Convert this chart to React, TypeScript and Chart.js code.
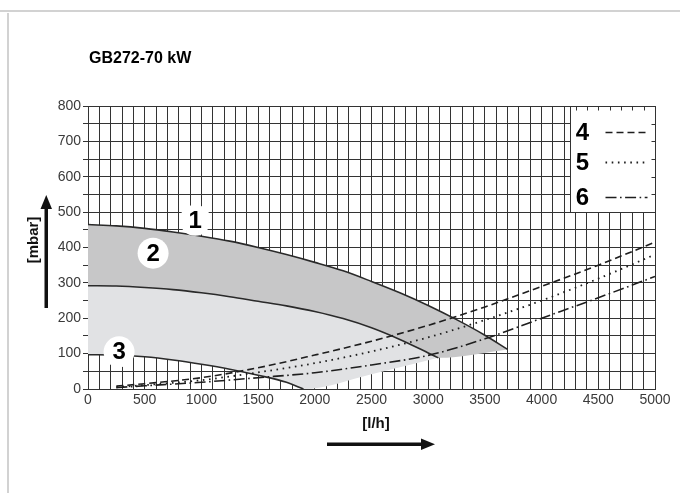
import React, { useEffect, useRef } from "react";
import { Chart, registerables } from "chart.js";

Chart.register(...registerables);

// ---------- text ----------
const chartTitle = "GB272-70 kW";
const yAxisTitle = "[mbar]";
const xAxisTitle = "[l/h]";
const curveLabels = ["1", "2", "3"];
const legendLabels = ["4", "5", "6"];

// ---------- axes ----------
const flowMin = 0;
const flowMax = 5000;
const flowGridStep = 100;
const flowLabelStep = 500;
const pressureMin = 0;
const pressureMax = 800;
const pressureGridStep = 50;
const pressureLabelStep = 100;

// ---------- pump curves [l/h, mbar] ----------
const curve1: [number, number][] = [
  [0, 465], [250, 461], [500, 454], [750, 444], [1000, 432], [1250, 418],
  [1500, 400], [1750, 380], [2000, 358], [2250, 334], [2500, 304],
  [2750, 272], [3000, 236], [3250, 196], [3500, 152], [3700, 112],
];
const curve2: [number, number][] = [
  [0, 292], [250, 291], [500, 287], [750, 281], [1000, 272], [1250, 261],
  [1500, 248], [1750, 235], [2000, 219], [2250, 199], [2500, 173],
  [2750, 140], [3000, 102], [3090, 88],
];
const curve3: [number, number][] = [
  [0, 97], [250, 96], [500, 91], [750, 82], [1000, 70], [1250, 56],
  [1500, 39], [1750, 19], [1900, 0],
];
// lower edge of the shaded operating field
const lowerEdgeLight: [number, number][] = [[1900, 0], [2500, 42], [3090, 88]];
const lowerEdgeDark: [number, number][] = [[3090, 88], [3700, 112]];

// ---------- system curves 4, 5, 6 ----------
const system4: [number, number][] = [
  [250, 8], [500, 15], [1000, 32], [1500, 60], [2000, 96], [2500, 135],
  [3000, 180], [3500, 232], [4000, 290], [4500, 350], [5000, 415],
];
const system5: [number, number][] = [
  [250, 5], [500, 11], [1000, 25], [1500, 47], [2000, 73], [2500, 106],
  [3000, 146], [3500, 195], [4000, 250], [4500, 312], [5000, 380],
];
const system6: [number, number][] = [
  [250, 4], [500, 9], [1000, 19], [1500, 32], [2000, 46], [2500, 68],
  [3000, 95], [3500, 142], [4000, 200], [4500, 258], [5000, 318],
];

// anchors (data coords) of the numbered circle labels
const curveLabelAnchors: [number, number][] = [[945, 477], [574, 384], [274, 105]];
// legend box extent (data coords)
const legendBoxFlow: [number, number] = [4250, 5000];
const legendBoxPressure: [number, number] = [500, 800];

const FONT = '"Liberation Sans", Arial, Helvetica, sans-serif';
const INK = "#1e1e1e";
const GRID = "#333333";
const DARK_FILL = "#c7c7c8";
const LIGHT_FILL = "#e1e2e4";
const DASH4 = [7, 4];
const DASH5 = [1.6, 4.6];
const DASH6 = [11, 3.5, 1.6, 3.5];

const toPts = (arr: [number, number][]) => arr.map(([x, y]) => ({ x, y }));

const decorPlugin = {
  id: "decor",
  afterDatasetsDraw(chart: any) {
    const { ctx } = chart;
    const xs = chart.scales.x;
    const ys = chart.scales.y;
    curveLabels.forEach((t, i) => {
      const px = xs.getPixelForValue(curveLabelAnchors[i][0]);
      const py = ys.getPixelForValue(curveLabelAnchors[i][1]);
      ctx.save();
      ctx.fillStyle = "#ffffff";
      ctx.beginPath();
      ctx.arc(px, py, 15.5, 0, Math.PI * 2);
      ctx.fill();
      ctx.fillStyle = "#000";
      ctx.font = `bold 24px ${FONT}`;
      ctx.textAlign = "center";
      ctx.textBaseline = "middle";
      ctx.fillText(t, px, py + 1);
      ctx.restore();
    });
  },
  afterDraw(chart: any) {
    const { ctx } = chart;
    const xs = chart.scales.x;
    const ys = chart.scales.y;

    // legend box
    const l = Math.round(xs.getPixelForValue(legendBoxFlow[0])) + 0.5;
    const r = Math.round(xs.getPixelForValue(legendBoxFlow[1])) + 0.5;
    const t = Math.round(ys.getPixelForValue(legendBoxPressure[1])) + 0.5;
    const b = Math.round(ys.getPixelForValue(legendBoxPressure[0])) + 0.5;
    ctx.save();
    ctx.fillStyle = "#fff";
    ctx.fillRect(l, t, r - l, b - t);
    ctx.strokeStyle = GRID;
    ctx.lineWidth = 1;
    ctx.strokeRect(l, t, r - l, b - t);
    ctx.beginPath();
    for (let v = legendBoxFlow[0] + 50; v < legendBoxFlow[1]; v += flowGridStep) {
      const px = Math.round(xs.getPixelForValue(v)) + 0.5;
      ctx.moveTo(px, t);
      ctx.lineTo(px, t + 4);
    }
    for (let v = legendBoxPressure[0] + pressureGridStep; v < legendBoxPressure[1]; v += pressureGridStep) {
      const py = Math.round(ys.getPixelForValue(v)) + 0.5;
      ctx.moveTo(r - 4, py);
      ctx.lineTo(r, py);
    }
    ctx.stroke();

    const rowY = [t + 26, t + 56, t + 91];
    const dashes = [DASH4, DASH5, DASH6];
    legendLabels.forEach((lab, i) => {
      ctx.fillStyle = "#000";
      ctx.font = `bold 24px ${FONT}`;
      ctx.textAlign = "center";
      ctx.textBaseline = "middle";
      ctx.fillText(lab, l + 12, rowY[i] + 1);
      ctx.strokeStyle = INK;
      ctx.lineWidth = i === 1 ? 1.8 : 1.7;
      ctx.setLineDash(dashes[i]);
      ctx.beginPath();
      ctx.moveTo(l + 35, rowY[i]);
      ctx.lineTo(l + 77, rowY[i]);
      ctx.stroke();
    });
    ctx.setLineDash([]);
    ctx.restore();

    // title
    ctx.save();
    ctx.fillStyle = "#000";
    ctx.font = `bold 16px ${FONT}`;
    ctx.textAlign = "left";
    ctx.textBaseline = "alphabetic";
    ctx.fillText(chartTitle, 89, 63);

    // y-axis title + arrow
    ctx.save();
    ctx.translate(34, 240);
    ctx.rotate(-Math.PI / 2);
    ctx.font = `bold 15px ${FONT}`;
    ctx.textAlign = "center";
    ctx.textBaseline = "middle";
    ctx.fillStyle = "#111";
    ctx.fillText(yAxisTitle, 0, 0);
    ctx.restore();

    ctx.fillStyle = "#111";
    ctx.fillRect(44.5, 206, 3.5, 102);
    ctx.beginPath();
    ctx.moveTo(46.25, 195);
    ctx.lineTo(40.5, 209);
    ctx.lineTo(52, 209);
    ctx.closePath();
    ctx.fill();

    // x-axis title + arrow
    ctx.font = `bold 15px ${FONT}`;
    ctx.textAlign = "center";
    ctx.textBaseline = "middle";
    ctx.fillText(xAxisTitle, 376, 424);
    ctx.fillRect(327, 442.5, 96, 3.5);
    ctx.beginPath();
    ctx.moveTo(435, 444.25);
    ctx.lineTo(421, 438.5);
    ctx.lineTo(421, 450);
    ctx.closePath();
    ctx.fill();
    ctx.restore();
  },
};

export default function App() {
  const ref = useRef<HTMLCanvasElement>(null);
  useEffect(() => {
    const canvas = ref.current;
    if (!canvas) return;
    const lineBase = {
      showLine: true,
      pointRadius: 0,
      pointHoverRadius: 0,
      cubicInterpolationMode: "monotone" as const,
      fill: false as any,
    };
    const chart = new Chart(canvas, {
      type: "scatter",
      data: {
        datasets: [
          { ...lineBase, label: "4", data: toPts(system4), borderColor: INK, borderWidth: 1.6, borderDash: DASH4, order: 1 },
          { ...lineBase, label: "5", data: toPts(system5), borderColor: INK, borderWidth: 1.8, borderDash: DASH5, order: 1 },
          { ...lineBase, label: "6", data: toPts(system6), borderColor: INK, borderWidth: 1.6, borderDash: DASH6, order: 1 },
          { ...lineBase, label: "1", data: toPts(curve1), borderColor: "#2a2a2a", borderWidth: 1.6, fill: 6, backgroundColor: DARK_FILL, order: 2 },
          { ...lineBase, label: "2", data: toPts(curve2), borderColor: "#2a2a2a", borderWidth: 1.6, fill: 7, backgroundColor: LIGHT_FILL, order: 2 },
          { ...lineBase, label: "3", data: toPts(curve3), borderColor: "#2a2a2a", borderWidth: 1.6, order: 2 },
          { ...lineBase, label: "lowerDark", data: toPts([...curve2.slice(0, -1), ...lowerEdgeDark]), borderColor: "rgba(0,0,0,0)", borderWidth: 1, order: 3 },
          { ...lineBase, label: "lowerLight", data: toPts([...curve3.slice(0, -1), ...lowerEdgeLight]), borderColor: "rgba(0,0,0,0)", borderWidth: 1, order: 3 },
        ],
      },
      options: {
        responsive: false,
        animation: false,
        devicePixelRatio: 1,
        events: [],
        layout: { padding: { left: 0, right: 25, top: 106, bottom: 84 } },
        plugins: {
          legend: { display: false },
          tooltip: { enabled: false },
          title: { display: false },
          filler: { drawTime: "beforeDatasetsDraw" as any },
        },
        scales: {
          x: {
            type: "linear",
            min: flowMin,
            max: flowMax,
            afterFit: (s: any) => { s.height = 20; },
            border: { display: true, color: GRID, width: 1 },
            grid: { color: GRID, lineWidth: 1, drawTicks: false },
            ticks: {
              stepSize: flowGridStep,
              autoSkip: false,
              maxRotation: 0,
              minRotation: 0,
              padding: 3,
              color: "#3a3a3a",
              font: { family: FONT, size: 14 },
              callback: (v: any) => (Number(v) % flowLabelStep === 0 ? String(v) : ""),
            },
          },
          y: {
            type: "linear",
            min: pressureMin,
            max: pressureMax,
            afterFit: (s: any) => { s.width = 88; },
            border: { display: true, color: GRID, width: 1 },
            grid: { color: GRID, lineWidth: 1, drawTicks: true, tickLength: 5 },
            ticks: {
              stepSize: pressureGridStep,
              autoSkip: false,
              padding: 2,
              color: "#3a3a3a",
              font: { family: FONT, size: 14 },
              callback: (v: any) => (Number(v) % pressureLabelStep === 0 ? String(v) : ""),
            },
          },
        },
      },
      plugins: [decorPlugin],
    });
    return () => chart.destroy();
  }, []);

  return (
    <div style={{ position: "fixed", left: 0, top: 0, width: 680, height: 493, background: "#fff", overflow: "hidden" }}>
      <div style={{ position: "absolute", left: 0, top: 10, width: 680, height: 2, background: "#d2d2d2" }} />
      <div style={{ position: "absolute", left: 7, top: 13, width: 2, height: 480, background: "#d2d2d2" }} />
      <canvas ref={ref} width={680} height={493} style={{ position: "absolute", left: 0, top: 0 }} />
    </div>
  );
}
